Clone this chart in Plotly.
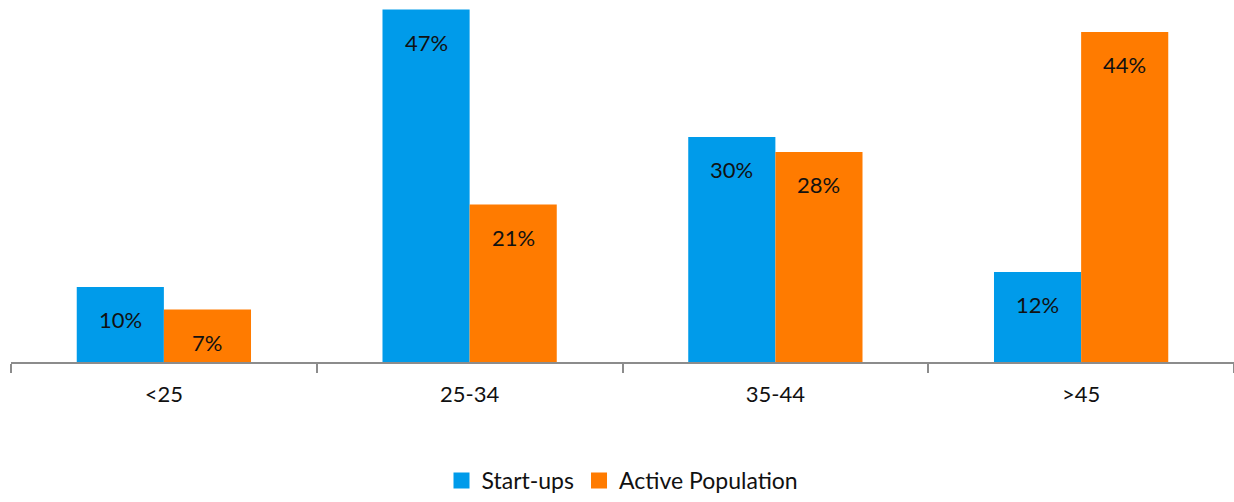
import plotly.graph_objects as go

age_groups = ["<25", "25-34", "35-44", ">45"]
startups = [10, 47, 30, 12]
active_population = [7, 21, 28, 44]

series = [
    ("Start-ups", startups, "#009BEA"),
    ("Active Population", active_population, "#FF7B00"),
]

FONT = "Lato"
BARGAP = 0.43
bar_w = (1 - BARGAP) / len(series)

fig = go.Figure()
annotations = []
for k, (name, values, color) in enumerate(series):
    fig.add_trace(go.Bar(
        name=name, x=age_groups, y=values, showlegend=False,
        marker=dict(color=color, line=dict(width=0)),
    ))
    # legend entry with a larger square swatch
    fig.add_trace(go.Scatter(
        name=name, x=[None], y=[None], mode="markers",
        marker=dict(symbol="square", size=16, color=color),
        showlegend=True, hoverinfo="skip",
    ))
    offset = (k - (len(series) - 1) / 2) * bar_w
    for i, v in enumerate(values):
        annotations.append(dict(
            x=i + offset, y=v, xref="x", yref="y",
            text=f"{v}%", showarrow=False,
            yanchor="top", yshift=-17,
            font=dict(family=FONT, size=22, color="#111111"),
        ))

fig.update_layout(
    width=1234, height=502,
    margin=dict(l=11, r=0, t=2, b=140),
    paper_bgcolor="white", plot_bgcolor="white",
    barmode="group", bargap=BARGAP, bargroupgap=0,
    font=dict(family=FONT, size=22, color="#111111"),
    annotations=annotations,
    showlegend=True,
    legend=dict(
        orientation="h", x=0.5, xanchor="center",
        yref="container", y=-0.014, yanchor="bottom",
        font=dict(family=FONT, size=23, color="#111111"),
        itemwidth=30, traceorder="normal",
        borderwidth=0, tracegroupgap=0,
    ),
    xaxis=dict(
        type="category", range=[-0.5, 3.5],
        showline=True, linecolor="#8C8C8C", linewidth=2,
        ticks="outside", tickson="boundaries", ticklen=9,
        tickcolor="#8C8C8C", tickwidth=2,
        showgrid=False, zeroline=False,
        tickfont=dict(family=FONT, size=22, color="#111111"),
        ticklabelstandoff=12,
    ),
    yaxis=dict(
        range=[0, 48], visible=False, showgrid=False, zeroline=False,
    ),
)

fig.write_html("out.html")
